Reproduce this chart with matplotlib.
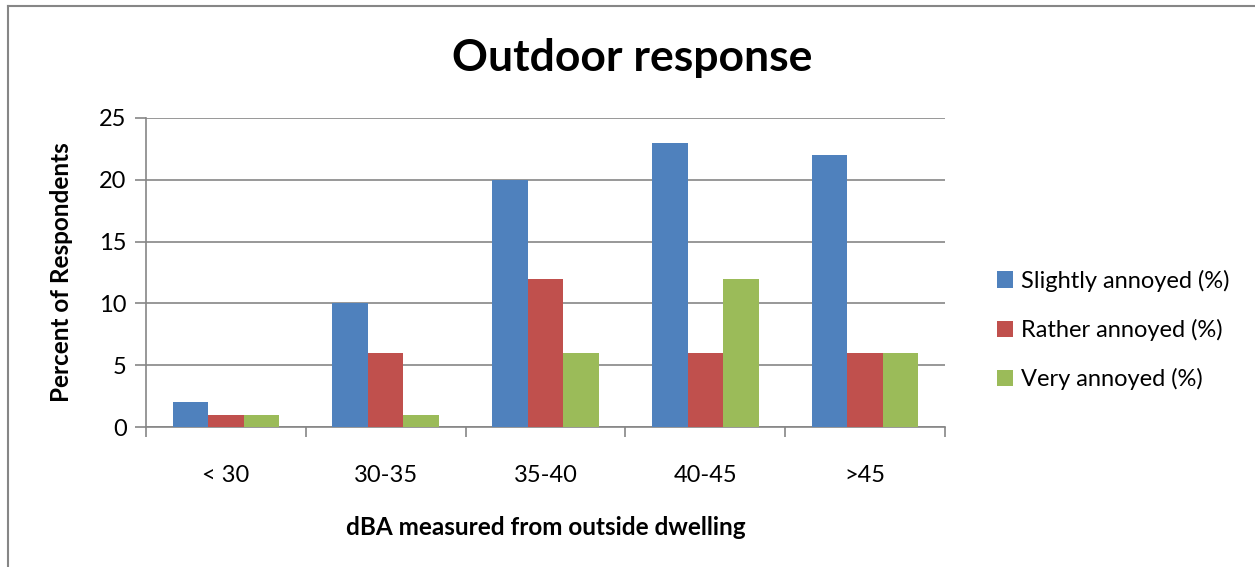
import matplotlib
matplotlib.use("Agg")
import matplotlib.pyplot as plt
from matplotlib.patches import Patch
from matplotlib.lines import Line2D
import numpy as np

plt.rcParams['font.family'] = ['Lato', 'DejaVu Sans']

categories = ["< 30", "30-35", "35-40", "40-45", ">45"]
series_names = ["Slightly annoyed (%)", "Rather annoyed (%)", "Very annoyed (%)"]
slightly = [2, 10, 20, 23, 22]
rather = [1, 6, 12, 6, 6]
very = [1, 1, 6, 12, 6]
colors = ["#4F81BD", "#C0504D", "#9BBB59"]
yticks = [0, 5, 10, 15, 20, 25]

fig = plt.figure(figsize=(12.55, 5.67), dpi=100)
ax = fig.add_axes([146/1255, 1-427/567, (945-146)/1255, (427-118)/567])

x = np.arange(len(categories))
w = 0.222
for j, (vals, c) in enumerate(zip([slightly, rather, very], colors)):
    ax.bar(x + (j-1)*w, vals, width=w, color=c, zorder=3, label=series_names[j])

ax.set_xlim(-0.5, len(categories)-0.5)
ax.set_ylim(0, 25)
ax.set_yticks(yticks)
ax.yaxis.grid(True, color="#868686", linewidth=1.2, zorder=0)
ax.set_xticks(x)
ax.set_xticklabels(categories, fontsize=17)
ax.set_xticks(np.arange(-0.5, len(categories)), minor=True)
ax.tick_params(axis='x', which='major', length=0, pad=27)
ax.tick_params(axis='x', which='minor', length=7, width=1.2, color="#868686")
ax.tick_params(axis='y', length=8, width=1.2, color="#868686", labelsize=17, pad=6)
for s in ['top', 'right']:
    ax.spines[s].set_visible(False)
for s in ['left', 'bottom']:
    ax.spines[s].set_color("#868686")
    ax.spines[s].set_linewidth(1.2)

ax.set_ylabel("Percent of Respondents", fontsize=17.5, fontweight='bold', labelpad=19)
ax.set_xlabel("dBA measured from outside dwelling", fontsize=17.5, fontweight='bold', labelpad=22)
fig.text(632/1255, 1-58/567, "Outdoor response", fontsize=32, fontweight='bold',
         ha='center', va='center')

handles = [Patch(facecolor=c, label=n) for c, n in zip(colors, series_names)]
fig.legend(handles=handles, loc='center left', bbox_to_anchor=(980/1255, 1-330/567),
           frameon=False, fontsize=17, handlelength=0.7, handleheight=0.7,
           handletextpad=0.35, labelspacing=1.15, borderpad=0.2)

# outer border (left and top)
fig.add_artist(Line2D([8/1255, 8/1255], [0, 1-6/567], color="#868686", linewidth=1.5,
                      transform=fig.transFigure))
fig.add_artist(Line2D([8/1255, 1], [1-6/567, 1-6/567], color="#868686", linewidth=1.5,
                      transform=fig.transFigure))

fig.savefig("out.png", dpi=100)
